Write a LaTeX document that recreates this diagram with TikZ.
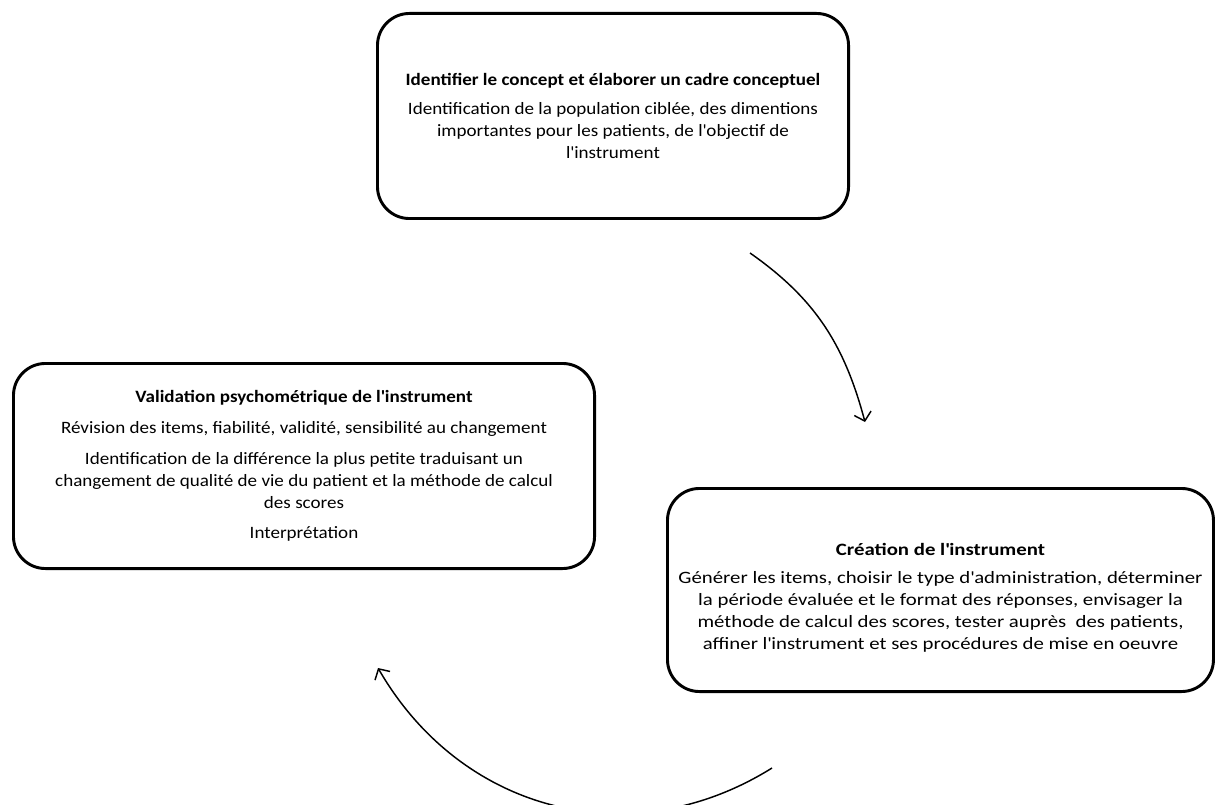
\documentclass[tikz,border=0pt]{standalone}
\usepackage{fontspec}
\setmainfont{Carlito}
\newfontfamily\policeA{Carlito}[FakeStretch=1.10]
\newfontfamily\policeC{Carlito}[FakeStretch=1.20]
\usetikzlibrary{arrows.meta,positioning}
\newcommand{\apo}{\textquotesingle}

\begin{document}
\begin{tikzpicture}[x=0.75pt, y=0.75pt, >={Straight Barb[length=6pt,width=13pt]}, on grid,
	etape/.style={draw, line width=2.2pt, rounded corners=24pt, align=center, inner sep=0pt},
	fleche/.style={->, line width=1.1pt}]
			\useasboundingbox (0,0) rectangle (1226,-805);
			\node[etape, minimum width=353.3pt, minimum height=153.8pt, font=\policeA\fontsize{13}{16.5}\selectfont] (E1) at (613,-116) {\textbf{Identifier le concept et élaborer un cadre conceptuel}\\[5pt]Identification de la population ciblée, des dimentions\\importantes pour les patients, de l\apo objectif de\\l\apo instrument};
			\node[etape, minimum width=435.8pt, minimum height=153.8pt, font=\policeA\fontsize{13}{16.5}\selectfont] (E2) [below left = 262.5pt and 231.75pt of E1] {\textbf{Validation psychométrique de l\apo instrument}\\[6.5pt]Révision des items, fiabilité, validité, sensibilité au changement\\[6.5pt]Identification de la différence la plus petite traduisant un\\changement de qualité de vie du patient et la méthode de calcul\\des scores\\[6.5pt]Interprétation};
			\node[etape, minimum width=409.5pt, minimum height=152.3pt, font=\policeC\fontsize{13}{16.5}\selectfont] (E3) [below right = 355.5pt and 245.6pt of E1] {\rule{0pt}{21pt}\textbf{Création de l\apo instrument}\\[5pt]Générer les items, choisir le type d\apo administration, déterminer\\la période évaluée et le format des réponses, envisager la\\méthode de calcul des scores, tester auprès \ des patients,\\affiner l\apo instrument et ses procédures de mise en oeuvre};
			
			\coordinate (D1) at (750,-253);
			\coordinate (F1) at (865,-422);
			\coordinate (D2) at (772,-768);
			\coordinate (F2) at (378,-668);
			
			\path (D1) edge [fleche, out=-35, in=105] (F1);
			\path (D2) edge [fleche, out=-148, in=-60, looseness=1.05] (F2);
\end{tikzpicture}
\end{document}
